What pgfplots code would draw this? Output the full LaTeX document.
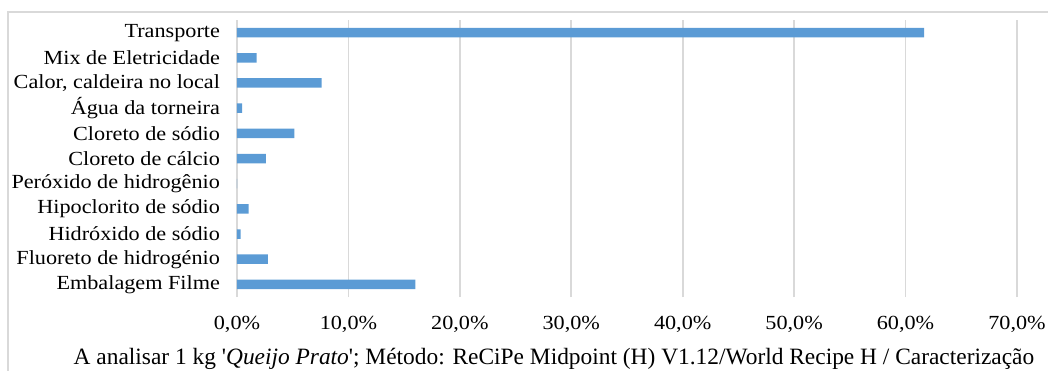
\documentclass[border=0pt]{standalone}
\usepackage{fontspec}
\setmainfont{Liberation Serif}[FakeStretch=1.11]
\newfontfamily\capfont{Liberation Serif}
\usepackage{pgfplots}
\pgfplotsset{compat=1.18}
\definecolor{barblue}{HTML}{5B9BD5}
\definecolor{gridgray}{HTML}{D9D9D9}
\definecolor{boxgray}{HTML}{D9D9D9}
\begin{document}
\begin{tikzpicture}
\useasboundingbox (-118.5pt,-36.5pt) rectangle (405.5pt,148.5pt);
\draw[boxgray, line width=0.6pt] (-114.5pt,-40pt) -- (-114.5pt,142.5pt) -- (410pt,142.5pt);
\begin{axis}[
  at={(0,0)}, anchor=south west,
  scale only axis,
  width=390pt, height=138.5pt,
  xbar, bar width=4.75pt,
  xmin=0, xmax=70,
  ymin=-0.5, ymax=10.5,
  xtick={0,10,...,70},
  xticklabels={0{,}0\%,10{,}0\%,20{,}0\%,30{,}0\%,40{,}0\%,50{,}0\%,60{,}0\%,70{,}0\%},
  ytick={0,...,10},
  yticklabels={Embalagem Filme,Fluoreto de hidrogénio,Hidróxido de sódio,Hipoclorito de sódio,Peróxido de hidrogênio,Cloreto de cálcio,Cloreto de sódio,Água da torneira,{Calor, caldeira no local},Mix de Eletricidade,Transporte},
  axis line style={draw=none},
  major tick length=0pt,
  xmajorgrids, grid style={gridgray, line width=0.9pt},
  tick label style={font=\fontsize{10}{12}\selectfont, text=black},
  xticklabel style={yshift=-6pt},
  yticklabel style={xshift=-5pt},
  clip=false,
]
\addplot[fill=barblue, draw=none] coordinates {
  (16.0,0) (2.78,1) (0.33,2) (1.04,3) (0.02,4) (2.6,5) (5.15,6) (0.45,7) (7.6,8) (1.76,9) (61.66,10)
};
\end{axis}
\node[font=\capfont\fontsize{11.7}{14}\selectfont, anchor=center, inner sep=0pt] at (158.5pt,-31pt) {A analisar 1 kg \textquotesingle\textit{Queijo Prato}\textquotesingle; Método: ReCiPe Midpoint (H) V1.12/World Recipe H / Caracterização};
\end{tikzpicture}
\end{document}
